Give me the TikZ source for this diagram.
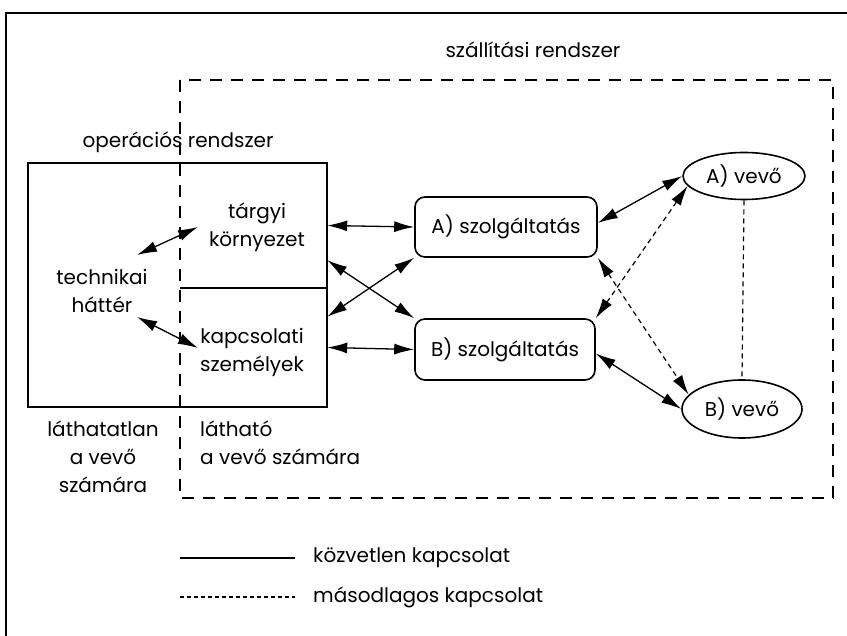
\documentclass[tikz,border=0pt]{standalone}
\usepackage{fontspec}
\setmainfont{Poppins}
\usetikzlibrary{arrows.meta,shapes.geometric}
\begin{document}
\begin{tikzpicture}[x=1pt,y=-1pt,
  >={Latex[length=20pt,width=11pt]},
  every node/.style={font=\fontsize{20}{28}\selectfont, align=center, inner sep=0pt},
  dbl/.style={arrows={<->}, line width=1.3pt},
  sec/.style={dash pattern=on 5pt off 4pt, line width=1.2pt},
  big/.style={dash pattern=on 12pt off 9pt, line width=1.8pt},
  svc/.style={draw, rounded corners=10pt, line width=1.6pt},
  cust/.style={draw, ellipse, line width=1.6pt},
  area/.style={draw=none, rectangle}]
\useasboundingbox (0,0) rectangle (847,636);
\fill[white] (0,0) rectangle (847,636);
% outer frame
\draw[line width=1.8pt] (6,640) -- (6,13) -- (850,13);
% titles
\node (tszall) at (533,50) {szállítási rendszer};
\node (toper) at (178,142) {operációs rendszer};
% dashed supply system box
\draw[big] (180,80) rectangle (833,498);
% operation box
\draw[line width=1.6pt] (28,163) rectangle (327,407);
\draw[line width=1.6pt] (180,288) -- (327,288);
% areas
\node[area, minimum width=147pt, minimum height=125pt] (targy) at (253.5,225.5) {};
\node[area, minimum width=147pt, minimum height=119pt] (kapcs) at (253.5,347.5) {};
\node (targytxt) at (257,227) {tárgyi\\környezet};
\node (kapcstxt) at (252,352) {kapcsolati\\személyek};
\node (tech) at (102,291) {technikai\\háttér};
% services
\node[svc, minimum width=182pt, minimum height=60pt] (aS) at (506,227) {A) szolgáltatás};
\node[svc, minimum width=180pt, minimum height=61pt] (bS) at (505,349.5) {B) szolgáltatás};
% customers
\node[cust, minimum width=122pt, minimum height=47pt] (aV) at (744,176) {A) vevő};
\node[cust, minimum width=120pt, minimum height=58pt] (bV) at (742,409) {B) vevő};
% inner arrows
\draw[dbl] ([shift={(35,-36)}]tech.center) -- ([shift={(-59,0)}]targytxt.center);
\draw[dbl] ([shift={(35,26)}]tech.center) -- ([shift={(-54,-4)}]kapcstxt.center);
% to services
\draw[dbl] (targy.east) -- (aS.west);
\draw[dbl] (kapcs.east) -- (bS.west);
\draw[dbl] ([shift={(0,-28)}]targy.south east) -- (bS.north west);
\draw[dbl] ([shift={(0,29)}]kapcs.north east) -- (aS.south west);
% to customers
\draw[dbl] ([shift={(0,-4)}]aS.east) -- (aV.west);
\draw[dbl] ([shift={(0,4)}]bS.east) -- (bV.west);
\draw[dbl, sec] (bS.north east) -- (aV.190);
\draw[dbl, sec] (aS.south east) -- (bV.165);
\draw[sec] (aV.south) -- (bV.north);
% visibility labels
\node (lathatatlan) at (103,457) {láthatatlan\\a vevő\\számára};
\node[anchor=west, align=left] (lathato) at (200,443) {látható\\a vevő számára};
% legend
\node[anchor=west] (leg1) at (313,558) {közvetlen kapcsolat};
\node[anchor=west] (leg2) at (313,597) {másodlagos kapcsolat};
\coordinate (l1) at (180,558);
\coordinate (l2) at (180,597);
\draw[line width=1.2pt] (l1) -- ([xshift=-18pt]leg1.west);
\draw[line width=1.2pt, dash pattern=on 4pt off 3pt] (l2) -- ([xshift=-18pt]leg2.west);
\end{tikzpicture}
\end{document}
